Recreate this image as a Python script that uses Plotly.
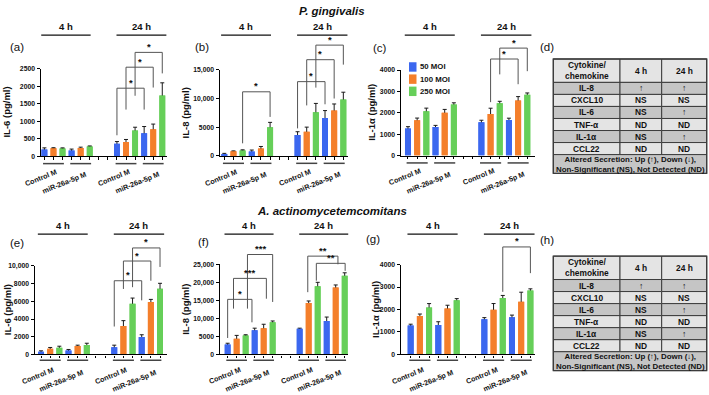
import plotly.graph_objects as go

W, H = 709, 395
FONT = "Liberation Sans, Arial, sans-serif"

# ---------------- data ----------------
moi_names = ["50 MOI", "100 MOI", "250 MOI"]
moi_colors = ["#3b67ef", "#f47f2b", "#66cf59"]
group_names = ["Control M", "miR-26a-5p M", "Control M", "miR-26a-5p M"]
time_names = ["4 h", "24 h"]
bar_slots = [0, 1, 2, 3, 4, 5, 8, 9, 10, 11, 12, 13]
all_slots = list(range(14))
group_centers = [1, 4, 9, 12]

# order: Control 4h (50,100,250 MOI), miR 4h, Control 24h, miR 24h
pg_il6 = [190, 230, 225, 165, 235, 280, 360, 410, 740, 660, 770, 1740]
pg_il6_err = [50, 15, 15, 40, 25, 15, 60, 70, 90, 190, 150, 360]
pg_il8 = [350, 800, 970, 780, 1300, 5000, 3650, 4220, 7600, 6600, 7900, 9850]
pg_il8_err = [100, 80, 100, 250, 350, 850, 570, 800, 1550, 1300, 1150, 1250]
pg_il1a = [1272, 1655, 2070, 1333, 2010, 2390, 1563, 1946, 2450, 1670, 2575, 2850]
pg_il1a_err = [80, 100, 150, 80, 150, 80, 90, 270, 90, 80, 185, 80]

aa_il6 = [300, 630, 740, 440, 960, 1070, 815, 3220, 5740, 1963, 5930, 7410]
aa_il6_err = [100, 150, 185, 115, 80, 190, 225, 595, 630, 257, 290, 630]
aa_il8 = [2730, 4360, 5270, 6730, 7270, 8900, 7090, 14270, 18900, 9270, 18540, 21820]
aa_il8_err = [360, 910, 180, 540, 1090, 370, 180, 550, 1100, 1090, 730, 820]
aa_il1a = [1285, 1708, 2088, 1314, 2044, 2409, 1562, 1985, 2511, 1650, 2340, 2845]
aa_il1a_err = [60, 90, 175, 140, 145, 75, 75, 280, 115, 100, 430, 75]

# significance brackets: (left slot, right slot, top, left-leg end, right-leg end, label)
br_a = [(8, 11, 1946, 600, 1335, "*"), (9, 12, 2547, 1335, 1965, "*"), (10, 13, 2970, 1730, 2370, "*")]
br_b = [(2, 5, 11170, 2200, 6800, "*"), (8, 11, 12940, 4800, 9000, "*"),
        (9, 12, 16760, 8800, 10000, "*"), (10, 13, 19300, 11900, 15900, "*")]
br_c = [(9, 12, 4520, 2500, 3340, "*"), (10, 13, 5030, 3800, 3950, "*")]
br_e = [(8, 11, 8330, 3150, 6110, "*"), (9, 12, 10560, 7400, 8330, "*"), (10, 13, 12040, 7600, 9890, "*")]
br_f = [(0, 2.7, 15270, 4550, 8900, "*"), (0.65, 4.3, 21090, 12700, 15450, "***"),
        (2.2, 5.0, 27720, 12700, 14550, "***"), (8.9, 12.25, 27270, 17270, 25000, "**"),
        (9.85, 13.05, 25270, 20450, 23180, "**")]
br_g = [(10, 13, 4787, 2787, 3620, "*")]

# summary tables
table_head = ["Cytokine/<br>chemokine", "4 h", "24 h"]
cytokines = ["IL-8", "CXCL10", "IL-6", "TNF-α", "IL-1α", "CCL22"]
pg_4h = ["↑", "NS", "NS", "ND", "NS", "ND"]
pg_24h = ["↑", "NS", "↑", "ND", "↑", "ND"]
aa_4h = ["↑", "NS", "NS", "ND", "NS", "ND"]
aa_24h = ["↑", "NS", "↑", "ND", "↑", "ND"]
table_foot = "Altered Secretion: Up (↑), Down (↓),<br>Non-Significant (NS), Not Detected (ND)"

# ---------------- layout constants (pixels) ----------------
panels = [
    dict(vals=pg_il6, err=pg_il6_err, br=br_a, L=41, R=167, T=66, B=155, ymax=2500,
         tv=[0, 500, 1000, 1500, 2000, 2500], tt=["0", "500", "1000", "1500", "2000", "2500"],
         x0=-0.375, x1=13.52, ytitle="IL-6 (pg/ml)", ytx=7, lab="(a)", lx=17, ly=43.3, row=0),
    dict(vals=pg_il8, err=pg_il8_err, br=br_b, L=220, R=348, T=67, B=154.7, ymax=15000,
         tv=[0, 5000, 10000, 15000], tt=["0", "5000", "10,000", "15,000"],
         x0=-0.47, x1=13.51, ytitle="IL-8 (pg/ml)", ytx=185.5, lab="(b)", lx=201.7, ly=43.3, row=0),
    dict(vals=pg_il1a, err=pg_il1a_err, br=br_c, L=401, R=535, T=67.3, B=154.3, ymax=4000,
         tv=[0, 1000, 2000, 3000, 4000], tt=["0", "1000", "2000", "3000", "4000"],
         x0=-0.76, x1=13.84, ytitle="IL-1α (pg/ml)", ytx=372, lab="(c)", lx=380, ly=44.3, row=0),
    dict(vals=aa_il6, err=aa_il6_err, br=br_e, L=35, R=166.7, T=266.7, B=356.7, ymax=10000,
         tv=[0, 2000, 4000, 6000, 8000, 10000], tt=["0", "2000", "4000", "6000", "8000", "10,000"],
         x0=-0.66, x1=13.73, ytitle="IL-6 (pg/ml)", ytx=7, lab="(e)", lx=16.7, ly=243.3, row=1),
    dict(vals=aa_il8, err=aa_il8_err, br=br_f, L=220, R=348.3, T=265, B=356.7, ymax=25000,
         tv=[0, 5000, 10000, 15000, 20000, 25000],
         tt=["0", "5000", "10,000", "15,000", "20,000", "25,000"],
         x0=-0.85, x1=13.4, ytitle="IL-8 (pg/ml)", ytx=185.5, lab="(f)", lx=203.3, ly=242.7, row=1),
    dict(vals=aa_il1a, err=aa_il1a_err, br=br_g, L=401, R=535, T=265.3, B=356.7, ymax=4000,
         tv=[0, 1000, 2000, 3000, 4000], tt=["0", "1000", "2000", "3000", "4000"],
         x0=-1.05, x1=13.5, ytitle="IL-1α (pg/ml)", ytx=375.5, lab="(g)", lx=372.7, ly=239.3, row=1),
]
rows = [dict(tline=31.7, ext_top=22, under=7.5), dict(tline=234.3, ext_top=232, under=6.0)]


def fx(p):
    return p / W


def fy(p):
    return 1 - p / H


fig = go.Figure()
shapes, annos = [], []
lay = {}


def txt(s, size, bold=True, color="#111"):
    return s, dict(family=FONT, size=size, color=color, weight="bold" if bold else "normal")


for i, p in enumerate(panels):
    n = i + 1
    xa = "x" if n == 1 else f"x{n}"
    ya = "y" if n == 1 else f"y{n}"
    ye_n = n + 10
    ye = f"y{ye_n}"
    r = rows[p["row"]]
    lay["xaxis" if n == 1 else f"xaxis{n}"] = dict(
        domain=[fx(p["L"]), fx(p["R"])], range=[p["x0"], p["x1"]], anchor=ya,
        showline=True, linecolor="#000", linewidth=1.3, ticks="outside", ticklen=2.5,
        tickwidth=1, tickcolor="#000", tickvals=all_slots, showticklabels=False,
        showgrid=False, zeroline=False, fixedrange=True)
    lay["yaxis" if n == 1 else f"yaxis{n}"] = dict(
        domain=[fy(p["B"]), fy(p["T"])], range=[0, p["ymax"]], anchor=xa,
        showline=True, linecolor="#000", linewidth=1.3, ticks="outside", ticklen=2.5,
        tickwidth=1, tickcolor="#000", tickvals=p["tv"], ticktext=p["tt"],
        tickfont=dict(family=FONT, size=6.8, color="#111", weight="bold"), ticklabelstandoff=1,
        showgrid=False, zeroline=False, fixedrange=True)
    ext_max = p["ymax"] * (p["B"] - r["ext_top"]) / (p["B"] - p["T"])
    lay[f"yaxis{ye_n}"] = dict(domain=[fy(p["B"]), fy(r["ext_top"])], range=[0, ext_max],
                               anchor=xa, visible=False, fixedrange=True)

    # bars with error bars, then bars again to hide lower half of the error bars
    for m in range(3):
        xs = [bar_slots[j] for j in range(12) if j % 3 == m]
        ys = [p["vals"][j] for j in range(12) if j % 3 == m]
        es = [p["err"][j] for j in range(12) if j % 3 == m]
        fig.add_trace(go.Bar(x=xs, y=ys, width=0.65, marker=dict(color=moi_colors[m], line_width=0),
                             error_y=dict(type="data", array=es, arrayminus=es, symmetric=False,
                                          color="#1a1a1a", thickness=1, width=2),
                             xaxis=xa, yaxis=ya, showlegend=False, name=moi_names[m]))
    for m in range(3):
        xs = [bar_slots[j] for j in range(12) if j % 3 == m]
        ys = [p["vals"][j] for j in range(12) if j % 3 == m]
        fig.add_trace(go.Bar(x=xs, y=ys, width=0.65, marker=dict(color=moi_colors[m], line_width=0),
                             xaxis=xa, yaxis=ya, showlegend=False, name=moi_names[m],
                             hoverinfo="skip"))

    # brackets
    for (xl, xr, top, legl, legr, lab) in p["br"]:
        fig.add_trace(go.Scatter(x=[xl, xl, xr, xr], y=[legl, top, top, legr], mode="lines",
                                 line=dict(color="#555", width=1), xaxis=xa, yaxis=ye,
                                 showlegend=False, hoverinfo="skip"))
        t, f = txt(lab, 9.5)
        annos.append(dict(x=(xl + xr) / 2, y=top, xref=xa, yref=ye, text=t, font=f,
                          showarrow=False, xanchor="center", yanchor="bottom", yshift=-1.5))

    # time headers
    for k, (a, b) in enumerate([(-0.35, 5.1), (7.95, 13.45)]):
        shapes.append(dict(type="line", xref=xa, yref="paper", x0=a, x1=b,
                           y0=fy(r["tline"]), y1=fy(r["tline"]), line=dict(color="#111", width=1.3)))
        t, f = txt(time_names[k], 9.5)
        annos.append(dict(x=(a + b) / 2, y=fy(r["tline"] - 1), xref=xa, yref="paper", text=t, font=f,
                          showarrow=False, xanchor="center", yanchor="bottom"))

    # group underlines and rotated group labels
    for k, c in enumerate(group_centers):
        uy = fy(p["B"] + r["under"])
        shapes.append(dict(type="line", xref=xa, yref="paper", x0=c - 1.15, x1=c + 1.15,
                           y0=uy, y1=uy, line=dict(color="#444", width=1.5)))
        ctrl = group_names[k].startswith("Control")
        t, f = txt(group_names[k], 7.2)
        annos.append(dict(x=c, y=fy(p["B"] + (21.5 if ctrl else 27.0)), xref=xa, yref="paper",
                          text=t, font=f, textangle=-22, showarrow=False,
                          xanchor="center", yanchor="middle", xshift=-12 if ctrl else -16))

    # y title and panel letter
    t, f = txt(p["ytitle"], 9.5)
    annos.append(dict(x=fx(p["ytx"]), y=fy((p["T"] + p["B"]) / 2), xref="paper", yref="paper",
                      text=t, font=f, textangle=-90, showarrow=False, xanchor="center", yanchor="middle"))
    t, f = txt(p["lab"], 11.5, bold=False)
    annos.append(dict(x=fx(p["lx"]), y=fy(p["ly"]), xref="paper", yref="paper", text=t, font=f,
                      showarrow=False, xanchor="center", yanchor="middle"))

# legend in panel (c)
for m in range(3):
    y0 = 59.3 + 12.4 * m
    shapes.append(dict(type="rect", xref="paper", yref="paper", x0=fx(409), x1=fx(416.5),
                       y0=fy(y0), y1=fy(y0 + 9.6), fillcolor=moi_colors[m], line_width=0))
    t, f = txt(moi_names[m], 7.8)
    annos.append(dict(x=fx(417.5), y=fy(y0 + 4.8), xref="paper", yref="paper", text=t, font=f,
                      showarrow=False, xanchor="left", yanchor="middle"))

# titles
for s, yy in [("<i>P. gingivalis</i>", 7.5), ("<i>A. actinomycetemcomitans</i>", 211)]:
    t, f = txt(s, 11.5)
    annos.append(dict(x=fx(332), y=fy(yy), xref="paper", yref="paper", text=t, font=f,
                      showarrow=False, xanchor="center", yanchor="middle"))

# summary tables (d) and (h)
tables = [dict(top=56, lab="(d)", ly=44, c4=pg_4h, c24=pg_24h),
          dict(top=256.7, lab="(h)", ly=240, c4=aa_4h, c24=aa_24h)]
TX = [553.3, 620, 661.7, 706.7]
HEAD_H, ROW_H, FOOT_H = 23.8, 12.25, 19.2
light, dark = "#e4e4e4", "#c5c5c5"
for tb in tables:
    top = tb["top"]
    t, f = txt(tb["lab"], 11.5, bold=False)
    annos.append(dict(x=fx(546.7), y=fy(tb["ly"]), xref="paper", yref="paper", text=t, font=f,
                      showarrow=False, xanchor="center", yanchor="middle"))
    row_texts = [table_head] + [[cytokines[k], tb["c4"][k], tb["c24"][k]] for k in range(6)]
    y = top
    for rr, cells in enumerate(row_texts):
        h = HEAD_H if rr == 0 else ROW_H
        fill = light if rr == 0 else (dark if rr % 2 == 1 else light)
        for cc in range(3):
            shapes.append(dict(type="rect", xref="paper", yref="paper", x0=fx(TX[cc]), x1=fx(TX[cc + 1]),
                               y0=fy(y + h), y1=fy(y), fillcolor=fill,
                               line=dict(color="#3c3c3c", width=1)))
            t, f = txt(cells[cc], 8.4)
            annos.append(dict(x=fx((TX[cc] + TX[cc + 1]) / 2), y=fy(y + h / 2), xref="paper",
                              yref="paper", text=t, font=f, showarrow=False,
                              xanchor="center", yanchor="middle"))
        y += h
    shapes.append(dict(type="rect", xref="paper", yref="paper", x0=fx(TX[0]), x1=fx(TX[3]),
                       y0=fy(y + FOOT_H), y1=fy(y), fillcolor=dark, line=dict(color="#3c3c3c", width=1)))
    t, f = txt(table_foot, 7.9)
    annos.append(dict(x=fx((TX[0] + TX[3]) / 2), y=fy(y + FOOT_H / 2), xref="paper", yref="paper",
                      text=t, font=f, showarrow=False, xanchor="center", yanchor="middle"))
    shapes.append(dict(type="rect", xref="paper", yref="paper", x0=fx(TX[0]), x1=fx(TX[3]),
                       y0=fy(y + FOOT_H), y1=fy(top), line=dict(color="#3c3c3c", width=1.3)))

fig.update_layout(width=W, height=H, margin=dict(l=0, r=0, t=0, b=0), autosize=False,
                  paper_bgcolor="white", plot_bgcolor="rgba(0,0,0,0)", barmode="overlay",
                  showlegend=False, shapes=shapes, annotations=annos, **lay)
fig.write_html("out.html", config={"displayModeBar": False},
               post_script="document.body.style.margin='0';document.body.style.padding='0';")
